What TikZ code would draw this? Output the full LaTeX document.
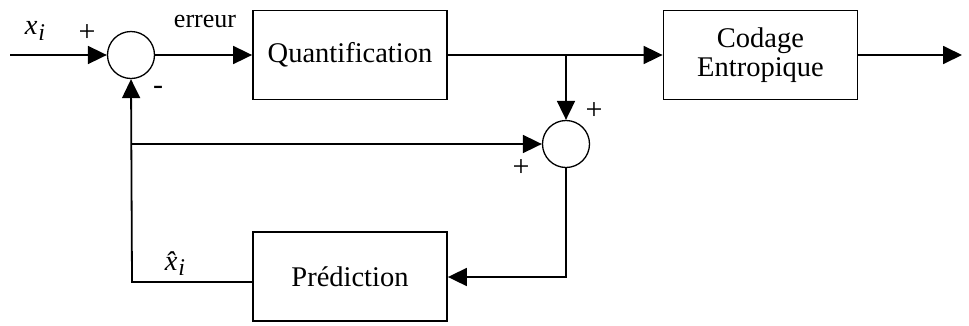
\documentclass[tikz,border=0pt]{standalone}
\usepackage{fontspec}
\setmainfont{Liberation Serif}
\newfontfamily\plusfont{Liberation Sans}
\usetikzlibrary{arrows.meta}
\begin{document}
\begin{tikzpicture}[x=1pt,y=-1pt,
  every node/.style={font=\fontsize{28.5}{29}\selectfont},
  blockbox/.style={draw,line width=1.8pt,minimum width=194pt,minimum height=89pt,inner sep=0pt,align=center},
  sumnode/.style={draw,circle,line width=1.3pt,minimum size=47pt,inner sep=0pt},
  conn/.style={line width=1.8pt},
  arr/.style={conn,-{Triangle[length=19pt,width=18pt]}},
  sign/.style={font=\fontsize{30}{30}\selectfont,inner sep=0pt}
]
\useasboundingbox (0,0) rectangle (969,325);
\node[sumnode] (s1) at (131,55) {};
\node[blockbox] (q) at (350,55) {Quantification};
\node[blockbox] (c) at (760.5,55) {Codage\\Entropique};
\node[sumnode] (s2) at (566,144) {};
\node[blockbox] (p) at (350,276.5) {Pr\'ediction};
\coordinate (in) at (10,55);
\coordinate (out) at (962,55);
\coordinate (br) at (566,55);
\coordinate (fb) at (132,144);
\coordinate (lc) at (132,282);
\coordinate (rc) at (566,277);
\draw[arr] (in) -- (s1.west);
\draw[arr] (s1.east) -- (q.west);
\draw[arr] (q.east) -- (c.west);
\draw[arr] (c.east) -- (out);
\draw[arr] (br) -- (s2.north);
\draw[arr] (fb) -- (s2.west);
\draw[arr] (s2.south) -- (rc) -- (p.east |- rc);
\draw[arr] (p.west |- lc) -- (lc) -- (s1.south);
\node (xi) at (35,31) {\itshape x\hspace{1pt}\raisebox{-0.4ex}{\fontsize{24}{24}\selectfont i}};
\node (err) at (205,21) {\fontsize{26}{26}\selectfont erreur};
\node[sign] (p1) at (87,33) {+};
\node[sign] (m1) at (158,90) {-};
\node[sign] (p2) at (594,111) {+};
\node[sign] (p3) at (521,168) {+};
\node (xh) at (175,264) {\itshape \^x\hspace{1pt}\raisebox{-0.4ex}{\fontsize{24}{24}\selectfont i}};
\end{tikzpicture}
\end{document}
